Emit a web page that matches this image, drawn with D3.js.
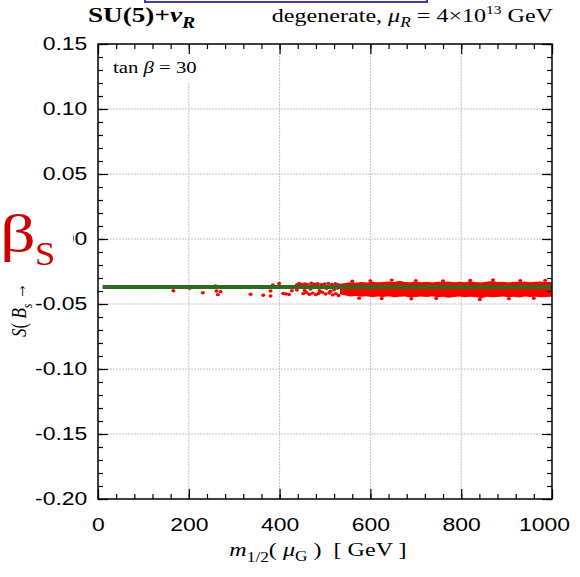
<!DOCTYPE html>
<html>
<head>
<meta charset="utf-8">
<script src="https://cdn.jsdelivr.net/npm/d3@7"></script>
<style>
body{margin:0;background:#fff;}
svg{display:block;}
</style>
</head>
<body>
<svg id="chart"></svg>
<script>
// tick values
var xTicks = [0,200,400,600,800,1000];
var yTicks = [0.15,0.10,0.05,0,-0.05,-0.10,-0.15,-0.20];
var xGrid = [200,400,600,800];
var yGrid = [0.10,0.05,0,-0.05,-0.10,-0.15];

// SM line
var smX = [10,1000];
var smY = -0.037;

// sparse scan points (m1/2 in GeV, S value)
var ptsX = [166,202,231,259,261,264,270,336,364,380,380,385,399,408,414,421,427,438,443,438,
  449,456,462,470,477,484,492,499,507,515,523,529,
  452,459,466,473,480,486,494,501,509,517,524,530,
  455,468,488,503,512,520,527,
  560,600,647,700,760,820,870,930,985,
  575,625,690,745,841,905,960];
var ptsY = [-0.0398,-0.0379,-0.0413,-0.0362,-0.0400,-0.0428,-0.0405,-0.0425,-0.0433,-0.0400,-0.0438,-0.0354,-0.0342,-0.0419,-0.0423,-0.0427,-0.0398,-0.0354,-0.0342,-0.0392,
  -0.0350,-0.0345,-0.0352,-0.0340,-0.0348,-0.0343,-0.0351,-0.0346,-0.0341,-0.0349,-0.0344,-0.0352,
  -0.0420,-0.0412,-0.0425,-0.0416,-0.0428,-0.0419,-0.0410,-0.0424,-0.0415,-0.0430,-0.0420,-0.0435,
  -0.0395,-0.0385,-0.0398,-0.0380,-0.0402,-0.0390,-0.0378,
  -0.0325,-0.0322,-0.0316,-0.0320,-0.0323,-0.0319,-0.0315,-0.0321,-0.0318,
  -0.0455,-0.0458,-0.0460,-0.0457,-0.0465,-0.0459,-0.0456];

// dense part of the scan, upper and lower edge
var bandX = [533,545,556,568,580,592,604,616,628,640,652,664,676,688,700,712,724,736,748,760,
  772,784,796,808,820,832,844,856,868,880,892,904,916,928,940,952,964,976,988,1000];
var bandHi = [-0.0345,-0.0338,-0.0332,-0.0336,-0.0330,-0.0334,-0.0328,-0.0333,-0.0330,-0.0326,
  -0.0331,-0.0322,-0.0330,-0.0333,-0.0327,-0.0332,-0.0329,-0.0334,-0.0328,-0.0331,
  -0.0326,-0.0333,-0.0329,-0.0332,-0.0327,-0.0330,-0.0335,-0.0328,-0.0323,-0.0331,
  -0.0329,-0.0334,-0.0328,-0.0331,-0.0327,-0.0333,-0.0329,-0.0326,-0.0331,-0.0330];
var bandLo = [-0.0425,-0.0435,-0.0442,-0.0438,-0.0445,-0.0441,-0.0448,-0.0443,-0.0446,-0.0440,
  -0.0449,-0.0445,-0.0442,-0.0450,-0.0446,-0.0443,-0.0447,-0.0441,-0.0448,-0.0444,
  -0.0452,-0.0446,-0.0443,-0.0449,-0.0445,-0.0447,-0.0455,-0.0444,-0.0448,-0.0446,
  -0.0442,-0.0449,-0.0445,-0.0450,-0.0443,-0.0447,-0.0444,-0.0448,-0.0446,-0.0444];

var width = 580, height = 577;
var pLeft = 98, pRight = 552, pTop = 44, pBottom = 499;
var sx = 1.235; // the picture is stretched sideways, text too
var serif = "'Liberation Serif','Times New Roman',serif";
var sans = "'Liberation Sans',Arial,Helvetica,sans-serif";

var svg = d3.select("#chart").attr("width",width).attr("height",height);

var x = d3.scaleLinear().domain([0,1000]).range([pLeft,pRight]);
var y = d3.scaleLinear().domain([-0.20,0.15]).range([pBottom,pTop]);

var addText = function(px,py,size,html){
  return svg.append("text")
    .attr("transform","translate("+px+","+py+") scale("+sx+",1)")
    .attr("font-family",serif).attr("font-size",size)
    .attr("xml:space","preserve")
    .html(html);
};

// grid
svg.append("g").selectAll("line").data(xGrid).enter().append("line")
  .attr("x1",function(d){return x(d);}).attr("x2",function(d){return x(d);})
  .attr("y1",pTop).attr("y2",pBottom)
  .attr("stroke","#c4c4c4").attr("stroke-width",1).attr("stroke-dasharray","2,1");
svg.append("g").selectAll("line").data(yGrid).enter().append("line")
  .attr("x1",pLeft).attr("x2",pRight)
  .attr("y1",function(d){return y(d);}).attr("y2",function(d){return y(d);})
  .attr("stroke","#c4c4c4").attr("stroke-width",1).attr("stroke-dasharray","2,1");

// white box behind tan beta label
svg.append("rect").attr("x",101).attr("y",46).attr("width",104).attr("height",36).attr("fill","#fff");
addText(113,73,16.8,'tan <tspan font-style="italic">β</tspan> = 30');

// dense band
var band = bandX.map(function(d,i){return {x:d,hi:bandHi[i],lo:bandLo[i]};});
svg.append("path").datum(band)
  .attr("d",d3.area().x(function(d){return x(d.x);})
    .y0(function(d){return y(d.lo);}).y1(function(d){return y(d.hi);}))
  .attr("fill","#ff0000");

// sparse points
svg.append("g").selectAll("ellipse").data(ptsX).enter().append("ellipse")
  .attr("cx",function(d){return x(d);})
  .attr("cy",function(d,i){return y(ptsY[i]);})
  .attr("rx",2).attr("ry",1.7).attr("fill","#ff0000");

// SM line
svg.append("line")
  .attr("x1",x(smX[0])).attr("x2",x(smX[1]))
  .attr("y1",y(smY)).attr("y2",y(smY))
  .attr("stroke","#2e6b1f").attr("stroke-width",4);

// axes: ticks inside on all sides
var fmt = function(d){return d.toFixed(2);};
var yMinor = d3.range(-20,16,1).map(function(d){return d/100;});
var xMinor = d3.range(0,1001,40);
var gb = svg.append("g").attr("transform","translate(0,"+pBottom+")")
  .call(d3.axisBottom(x).tickValues(xTicks).tickSize(-10).tickPadding(18.5).tickFormat(d3.format("d")));
var gbm = svg.append("g").attr("transform","translate(0,"+pBottom+")")
  .call(d3.axisBottom(x).tickValues(xMinor).tickSize(-5).tickFormat(""));
var gt = svg.append("g").attr("transform","translate(0,"+pTop+")")
  .call(d3.axisTop(x).tickValues(xTicks).tickSize(-10).tickFormat(""));
var gtm = svg.append("g").attr("transform","translate(0,"+pTop+")")
  .call(d3.axisTop(x).tickValues(xMinor).tickSize(-5).tickFormat(""));
var gl = svg.append("g").attr("transform","translate("+pLeft+",0)")
  .call(d3.axisLeft(y).tickValues(yTicks).tickSize(-10).tickPadding(8.6).tickFormat(fmt));
var glm = svg.append("g").attr("transform","translate("+pLeft+",0)")
  .call(d3.axisLeft(y).tickValues(yMinor).tickSize(-5).tickFormat(""));
var gr = svg.append("g").attr("transform","translate("+pRight+",0)")
  .call(d3.axisRight(y).tickValues(yTicks).tickSize(-10).tickFormat(""));
var grm = svg.append("g").attr("transform","translate("+pRight+",0)")
  .call(d3.axisRight(y).tickValues(yMinor).tickSize(-5).tickFormat(""));

[gb,gbm,gt,gtm,gl,glm,gr,grm].forEach(function(g){
  g.select(".domain").remove();
  g.selectAll(".tick line").attr("stroke","#000").attr("stroke-width",1.2);
  g.selectAll("text").attr("font-family",sans).attr("font-size",18.6).attr("fill","#000")
    .attr("transform","scale("+sx+",1)");
});
// last x label is pulled in from the edge
gb.selectAll(".tick text").filter(function(d){return d===1000;}).attr("x",-6.5);

// frame
svg.append("rect").attr("x",pLeft).attr("y",pTop)
  .attr("width",pRight-pLeft).attr("height",pBottom-pTop)
  .attr("fill","none").attr("stroke","#000").attr("stroke-width",1.5);

// titles
addText(88,22,22,'SU(5)+<tspan font-style="italic">ν</tspan><tspan font-style="italic" font-size="16" dy="6">R</tspan>')
  .attr("font-weight","bold");
addText(553,22,19.5,'degenerate, <tspan font-style="italic">μ</tspan><tspan font-style="italic" font-size="14" dy="5">R</tspan><tspan dy="-5"> = 4×10</tspan><tspan font-size="12.5" dy="-8">13</tspan><tspan dy="8"> GeV</tspan>')
  .attr("text-anchor","end");

// x label
addText(318,556,19.5,'<tspan font-style="italic">m</tspan><tspan font-size="14" dy="6">1/2</tspan><tspan dy="-6">( </tspan><tspan font-style="italic">μ</tspan><tspan font-size="14" dy="5">G</tspan><tspan dy="-5"> )  [ GeV ]</tspan>')
  .attr("text-anchor","middle");

// y label
svg.append("text").attr("transform","translate(26,337) scale("+sx+",1) rotate(-90)")
  .attr("font-family",serif).attr("font-size",17)
  .html('<tspan font-style="italic">S</tspan>( <tspan font-style="italic">B</tspan><tspan font-style="italic" font-size="12" dy="5">s</tspan><tspan dy="-5"> → J/ψ φ )</tspan>');

// overlay box with beta_s
svg.append("rect").attr("x",0).attr("y",190).attr("width",73).attr("height",89).attr("fill","#fff");
svg.append("text").attr("transform","translate(0,251) scale(1.35,1)")
  .attr("font-family",serif).attr("font-size",52).attr("fill","#cc0000").text("β");
svg.append("text").attr("transform","translate(35,265) scale(1.1,1)")
  .attr("font-family",serif).attr("font-size",33).attr("fill","#cc0000").text("S");

// blue box at top
svg.append("rect").attr("x",145).attr("y",-20).attr("width",282).attr("height",22)
  .attr("fill","none").attr("stroke","#3c3cb4").attr("stroke-width",2);
</script>
</body>
</html>
